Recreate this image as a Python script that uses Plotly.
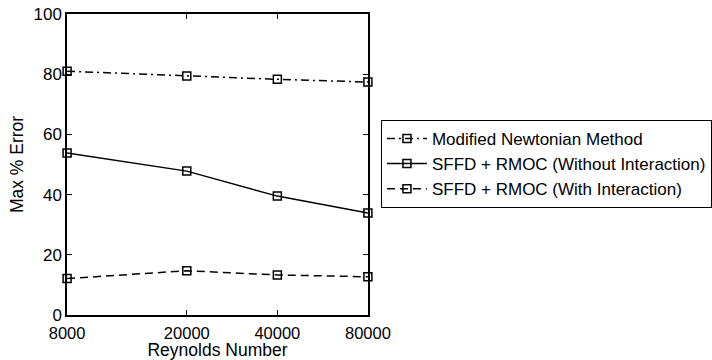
import math
import plotly.graph_objects as go

reynolds = [8000, 20000, 40000, 80000]
newtonian = [81.0, 79.4, 78.3, 77.4]
without_interaction = [53.8, 47.8, 39.5, 33.9]
with_interaction = [12.1, 14.7, 13.3, 12.7]
series_names = ["Modified Newtonian Method",
                "SFFD + RMOC (Without Interaction)",
                "SFFD + RMOC (With Interaction)"]
x_ticks = [8000, 20000, 40000, 80000]
y_ticks = [0, 20, 40, 60, 80, 100]

fig = go.Figure()
for vals, name, dash in zip([newtonian, without_interaction, with_interaction],
                            series_names, ["8px,4px,2px,4px", "solid", "8px,5px"]):
    fig.add_trace(go.Scatter(
        x=reynolds, y=vals, name=name, mode="lines+markers",
        line=dict(color="black", width=1.5, dash=dash),
        marker=dict(symbol="square-open", size=8, color="black",
                    line=dict(width=1.5, color="black")),
        cliponaxis=False,
    ))

font = "Liberation Sans, Arial, Helvetica, sans-serif"
xr = [math.log10(min(x_ticks)) - 0.0003, math.log10(max(x_ticks)) + 0.0003]
fig.update_layout(
    width=712, height=360,
    margin=dict(l=67, r=344, t=14, b=45, autoexpand=False),
    paper_bgcolor="white", plot_bgcolor="white",
    font=dict(family=font, size=17, color="black"),
    showlegend=True,
    legend=dict(x=1.043, y=0.502, xanchor="left", yanchor="middle",
                bordercolor="black", borderwidth=1, bgcolor="white",
                font=dict(size=17), tracegroupgap=0,
                itemwidth=40),
    xaxis=dict(type="log", range=xr,
               tickvals=x_ticks, ticktext=[str(t) for t in x_ticks],
               ticks="inside", ticklen=5, tickwidth=1, tickcolor="black",
               showline=True, linecolor="black", linewidth=1.5, mirror="ticks",
               showgrid=False, zeroline=False,
               tickfont=dict(size=16.5), ticklabelstandoff=2,
               title=dict(text="Reynolds Number", font=dict(size=17.5), standoff=3)),
    yaxis=dict(range=[0, 100], tickvals=y_ticks,
               ticks="inside", ticklen=5, tickwidth=1, tickcolor="black",
               showline=True, linecolor="black", linewidth=1.5, mirror="ticks",
               showgrid=False, zeroline=False,
               tickfont=dict(size=17),
               title=dict(text="Max % Error", font=dict(size=17.5), standoff=5)),
)
fig.write_html("out.html")
